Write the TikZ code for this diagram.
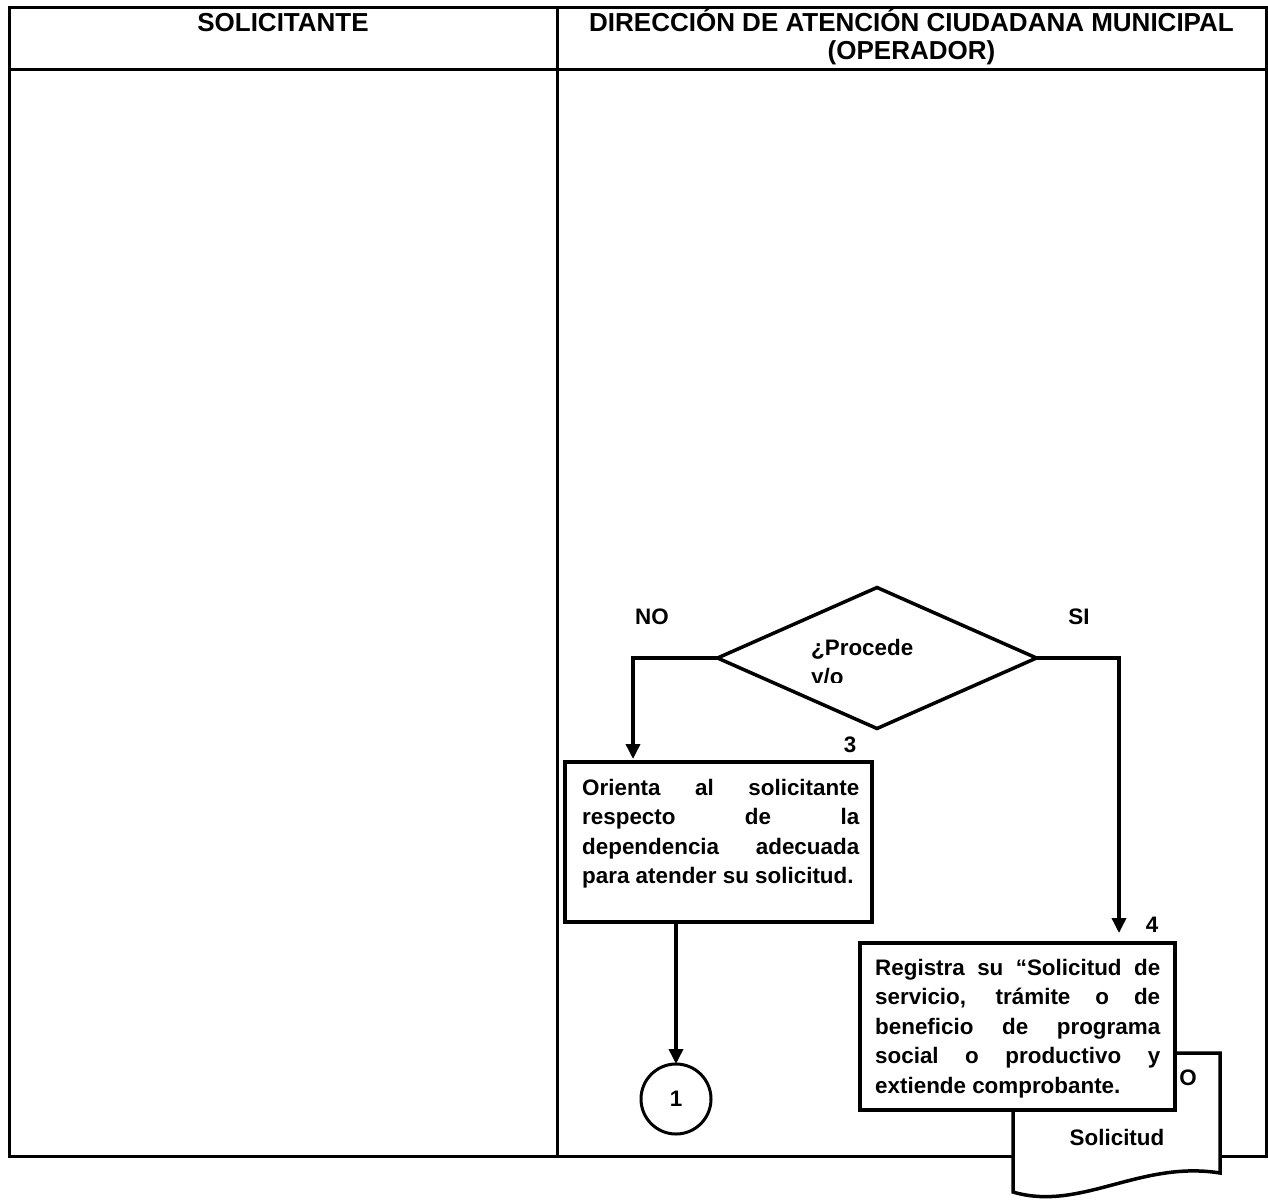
\documentclass[tikz,border=0pt]{standalone}
\usepackage{fontspec}
\setmainfont{Liberation Sans}
\usetikzlibrary{shapes.geometric,arrows.meta,calc}
\begin{document}
\begin{tikzpicture}[x=1pt,y=-1pt,
  rule/.style={line width=3pt},
  procbox/.style={draw, rectangle, line width=4.5pt, fill=white, inner sep=0pt, outer sep=0pt},
  decision/.style={draw, diamond, line width=3.5pt, fill=white, inner sep=0pt, outer sep=0pt},
  joint/.style={draw, circle, line width=3pt, inner sep=0pt, outer sep=0pt, minimum size=70pt},
  flow/.style={line width=3.5pt, -{Triangle[length=15pt,width=14pt]}},
  bodytxt/.style={inner sep=0pt, font=\fontsize{22.4}{29.5}\selectfont\bfseries},
  headtxt/.style={inner sep=0pt, font=\fontsize{26}{28.3}\selectfont\bfseries},
]
\useasboundingbox (0,0) rectangle (1268,1200);

% swimlane table
\draw[rule] (9,7) rectangle (1266,1156);
\draw[rule] (9,69) -- (1266,69);
\draw[rule] (557,7) -- (557,1156);
\node[headtxt, anchor=base] (laneA) at (283,31) {SOLICITANTE};
\node[headtxt, anchor=base] (laneB) at (911.5,31)
  {\parbox[t]{700pt}{\centering DIRECCIÓN DE ATENCIÓN CIUDADANA MUNICIPAL\\(OPERADOR)}};

% decision
\node[decision, minimum width=319pt, minimum height=141pt] (dec) at (877,658) {};
\begin{scope}
  \clip (800,625) rectangle (940,682);
  \node[bodytxt, anchor=base west] (qtext) at (811,655)
    {\parbox[t]{120pt}{\raggedright ¿Procede\\y/o}};
\end{scope}
\node[bodytxt] (lblno) at (652,617) {NO};
\node[bodytxt] (lblsi) at (1079,617) {SI};

% step 3
\node[procbox, minimum width=307pt, minimum height=160pt, anchor=north west] (b3) at (565,762) {};
\node[bodytxt, anchor=base west] (t3) at (582,795)
  {\parbox[t]{277pt}{Orienta al solicitante\linebreak respecto de la\linebreak dependencia adecuada\linebreak para atender su solicitud.}};
\node[bodytxt] (n3) at (850,745) {3};

% off-page connector
\node[joint] (c1) at (676,1099) {};
\node[bodytxt] (c1t) at (c1) {1};

% document symbol
\draw[line width=3.5pt, fill=white] (1013,1053) -- (1220,1053) -- (1220,1173)
  .. controls (1140,1160) and (1080,1212) .. (1013,1192) -- cycle;
\node[bodytxt] (doco) at (1188,1078) {O};
\node[bodytxt] (docs) at (1117,1137) {Solicitud};

% step 4
\node[procbox, minimum width=315pt, minimum height=167pt, anchor=north west] (b4) at (860,943) {};
\node[bodytxt, anchor=base west] (t4) at (875,975)
  {\parbox[t]{285pt}{Registra su “Solicitud de\linebreak servicio, trámite o de\linebreak beneficio de programa\linebreak social o productivo y\linebreak extiende comprobante.}};
\node[bodytxt] (n4) at (1152,925) {4};

% connectors
\draw[flow] (dec.west) -| ($(b3.north west)+(68,-3)$);
\draw[flow] (dec.east) -| ($(b4.north west)+(259,-10)$);
\draw[flow] (b3.south -| c1.north) -- (c1.north);
\end{tikzpicture}
\end{document}
